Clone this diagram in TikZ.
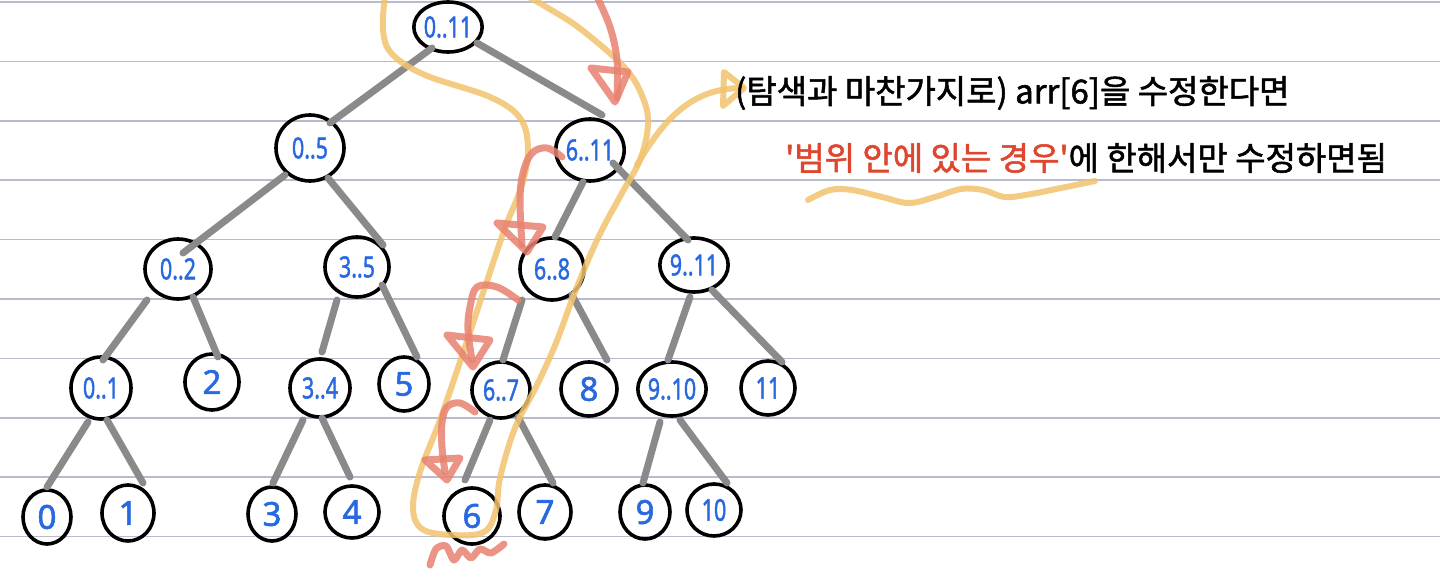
\documentclass[tikz,border=0pt]{standalone}
\usepackage{fontspec}
\usepackage{graphicx}
\usetikzlibrary{shapes.geometric,calc}
\newfontfamily\krfont[FakeBold=1.6]{Noto Sans CJK KR}
\newfontfamily\labfont[FakeBold=1.8]{Noto Sans}
\newcommand\rng[1]{\scalebox{0.74}[1]{\fontsize{29}{29}\selectfont #1}}
\newcommand\dig[1]{{\fontsize{33}{33}\selectfont #1}}
\newcommand\dd[1]{\scalebox{0.72}[1]{\fontsize{30}{30}\selectfont #1}}
\definecolor{rulecol}{RGB}{182,188,206}
\definecolor{edgecol}{RGB}{138,138,138}
\definecolor{labcol}{RGB}{40,105,225}
\definecolor{hlorange}{RGB}{242,195,110}
\definecolor{hlred}{RGB}{232,130,112}
\definecolor{txtred}{RGB}{222,70,45}
\tikzset{
  rule/.style={rulecol, line width=1.6pt},
  tn/.style={ellipse, draw=black, line width=3.6pt, inner sep=0pt, text=labcol,
    font=\labfont},
  tree/.style={edgecol, line width=7pt, line cap=round},
  redpen/.style={hlred, line width=7pt, line cap=round, line join=round, opacity=0.85},
  orangepen/.style={hlorange, line width=6pt, line cap=round, line join=round, opacity=0.85},
  note/.style={anchor=west, inner sep=0pt, font=\krfont\fontsize{33}{36}\selectfont},
}
\begin{document}
\begin{tikzpicture}[x=1pt,y=-1pt]
\useasboundingbox (0,0) rectangle (1440,588);
\fill[white] (0,0) rectangle (1440,588);
\foreach \k in {0,...,9} \draw[rule] (0,{2+59.4*\k}) -- (1440,{2+59.4*\k});

% nodes
\node[tn, minimum width=66pt, minimum height=50pt] (n011) at (448,27) {\rng{0..11}};
\node[tn, minimum width=68pt, minimum height=66pt] (n05) at (310,148) {\rng{0..5}};
\node[tn, minimum width=64pt, minimum height=62pt] (n611) at (590,150) {\rng{6..11}};
\node[tn, minimum width=66pt, minimum height=60pt] (n02) at (178,269) {\rng{0..2}};
\node[tn, minimum width=64pt, minimum height=60pt] (n35) at (357,267) {\rng{3..5}};
\node[tn, minimum width=64pt, minimum height=62pt] (n68) at (552,269) {\rng{6..8}};
\node[tn, minimum width=62pt, minimum height=54pt] (n911) at (694,265) {\rng{9..11}};
\node[tn, minimum width=60pt, minimum height=62pt] (n01) at (101,388) {\rng{0..1}};
\node[tn, minimum width=54pt, minimum height=56pt] (n2) at (212,382) {\dig{2}};
\node[tn, minimum width=60pt, minimum height=58pt] (n34) at (320,388) {\rng{3..4}};
\node[tn, minimum width=50pt, minimum height=54pt] (n5) at (404,384) {\dig{5}};
\node[tn, minimum width=58pt, minimum height=56pt] (n67) at (501,390) {\rng{6..7}};
\node[tn, minimum width=56pt, minimum height=54pt] (n8) at (589,389) {\dig{8}};
\node[tn, minimum width=58pt, minimum height=54pt] (n910) at (672,389) {\rng{9..10}};
\node[tn, minimum width=54pt, minimum height=54pt] (n11) at (768,388) {\dd{11}};
\node[tn, minimum width=48pt, minimum height=54pt] (n0) at (47,517) {\dig{0}};
\node[tn, minimum width=52pt, minimum height=56pt] (n1) at (128,513) {\dig{1}};
\node[tn, minimum width=48pt, minimum height=54pt] (n3) at (272,514) {\dig{3}};
\node[tn, minimum width=54pt, minimum height=52pt] (n4) at (352,512) {\dig{4}};
\node[tn, minimum width=56pt, minimum height=56pt] (n6) at (472,516) {\dig{6}};
\node[tn, minimum width=52pt, minimum height=54pt] (n7) at (545,512) {\dig{7}};
\node[tn, minimum width=50pt, minimum height=54pt] (n9) at (645,512) {\dig{9}};
\node[tn, minimum width=54pt, minimum height=52pt] (n10) at (714,510) {\dd{10}};

% tree connectors
\draw[tree] ($(n011)+(-16,21)$) -- ($(n05)+(20,-25)$);
\draw[tree] ($(n011)+(29,16)$) -- ($(n611)+(12,-35)$);
\draw[tree] ($(n05)+(-25,27)$) -- ($(n02)+(5,-16)$);
\draw[tree] ($(n05)+(18,30)$) -- ($(n35)+(26,-22)$);
\draw[tree] ($(n611)+(-7,32)$) -- ($(n68)+(3,-32)$);
\draw[tree] ($(n611)+(23,13)$) -- ($(n911)+(-6,-25)$);
\draw[tree] ($(n02)+(-31,31)$) -- ($(n01)+(2,-28)$);
\draw[tree] ($(n02)+(15,28)$) -- ($(n2)+(6,-25)$);
\draw[tree] ($(n35)+(-20,33)$) -- ($(n34)+(2,-36)$);
\draw[tree] ($(n35)+(25,18)$) -- ($(n5)+(13,-27)$);
\draw[tree] ($(n01)+(-13,34)$) -- ($(n0)+(0,-30)$);
\draw[tree] ($(n01)+(6,32)$) -- ($(n1)+(15,-30)$);
\draw[tree] ($(n34)+(-17,32)$) -- ($(n3)+(1,-31)$);
\draw[tree] ($(n34)+(2,30)$) -- ($(n4)+(-2,-35)$);
\draw[tree] ($(n68)+(-30,31)$) -- ($(n67)+(2,-30)$);
\draw[tree] ($(n68)+(20,26)$) -- ($(n8)+(18,-29)$);
\draw[tree] ($(n911)+(-4,32)$) -- ($(n910)+(-4,-29)$);
\draw[tree] ($(n911)+(18,25)$) -- ($(n11)+(14,-26)$);
\draw[tree] ($(n67)+(-11,30)$) -- ($(n6)+(-7,-36)$);
\draw[tree] ($(n67)+(17,27)$) -- ($(n7)+(8,-29)$);
\draw[tree] ($(n910)+(-12,33)$) -- ($(n9)+(-2,-29)$);
\draw[tree] ($(n910)+(8,31)$) -- ($(n10)+(13,-27)$);

% orange loop around the search path
\draw[orangepen] plot[smooth, tension=0.6] coordinates {
  (385,-5) (383,30) (392,54) (425,75) (490,97) (520,118) (528,148) (522,185)
  (505,228) (485,287) (463,353) (440,420) (420,472) (413,508) (422,529) (452,535)
  (484,532) (496,510) (500,478) (515,428) (537,385) (556,343) (575,292) (598,238)
  (622,193) (640,160) (648,125) (643,98) (625,68) (582,30) (548,8) (525,-5)};
\draw[orangepen] (637,165) .. controls (662,122) and (690,88) .. (742,88);
\draw[orangepen] (724,72) -- (744,88) -- (723,106) -- cycle;
\draw[orangepen] plot[smooth, tension=0.6] coordinates {
  (808,200) (830,190) (852,190) (882,197) (909,203) (935,197) (961,189)
  (983,190) (1005,197) (1031,194) (1061,188) (1095,181)};

% red arrows
\draw[redpen] plot[smooth, tension=0.6] coordinates {(597,-3) (610,27) (617,60) (617,98)};
\draw[redpen] (591,68) -- (628,72) -- (615,102) -- cycle;
\draw[redpen] plot[smooth, tension=0.6] coordinates {(562,157) (547,148) (532,153) (523,173) (520,200) (522,245)};
\draw[redpen] (497,223) -- (543,227) -- (527,252) -- cycle;
\draw[redpen] plot[smooth, tension=0.6] coordinates {(518,300) (497,287) (477,287) (470,307) (468,330) (472,360)};
\draw[redpen] (447,335) -- (490,340) -- (473,367) -- cycle;
\draw[redpen] plot[smooth, tension=0.6] coordinates {(475,412) (460,403) (447,407) (442,423) (442,447) (445,472)};
\draw[redpen] (425,460) -- (460,458) -- (447,480) -- cycle;
\draw[redpen] plot[smooth, tension=0.5] coordinates {(430,565) (436,549) (446,546) (454,560) (462,550) (471,558) (480,549) (491,553) (504,544)};

% note text
\node[note] (t1) at (735,93) {(탐색과 마찬가지로) arr[6]을 수정한다면};
\node[note] (t2) at (785,158) {\textcolor{txtred}{'범위 안에 있는 경우'}에 한해서만 수정하면됨};
\end{tikzpicture}
\end{document}
